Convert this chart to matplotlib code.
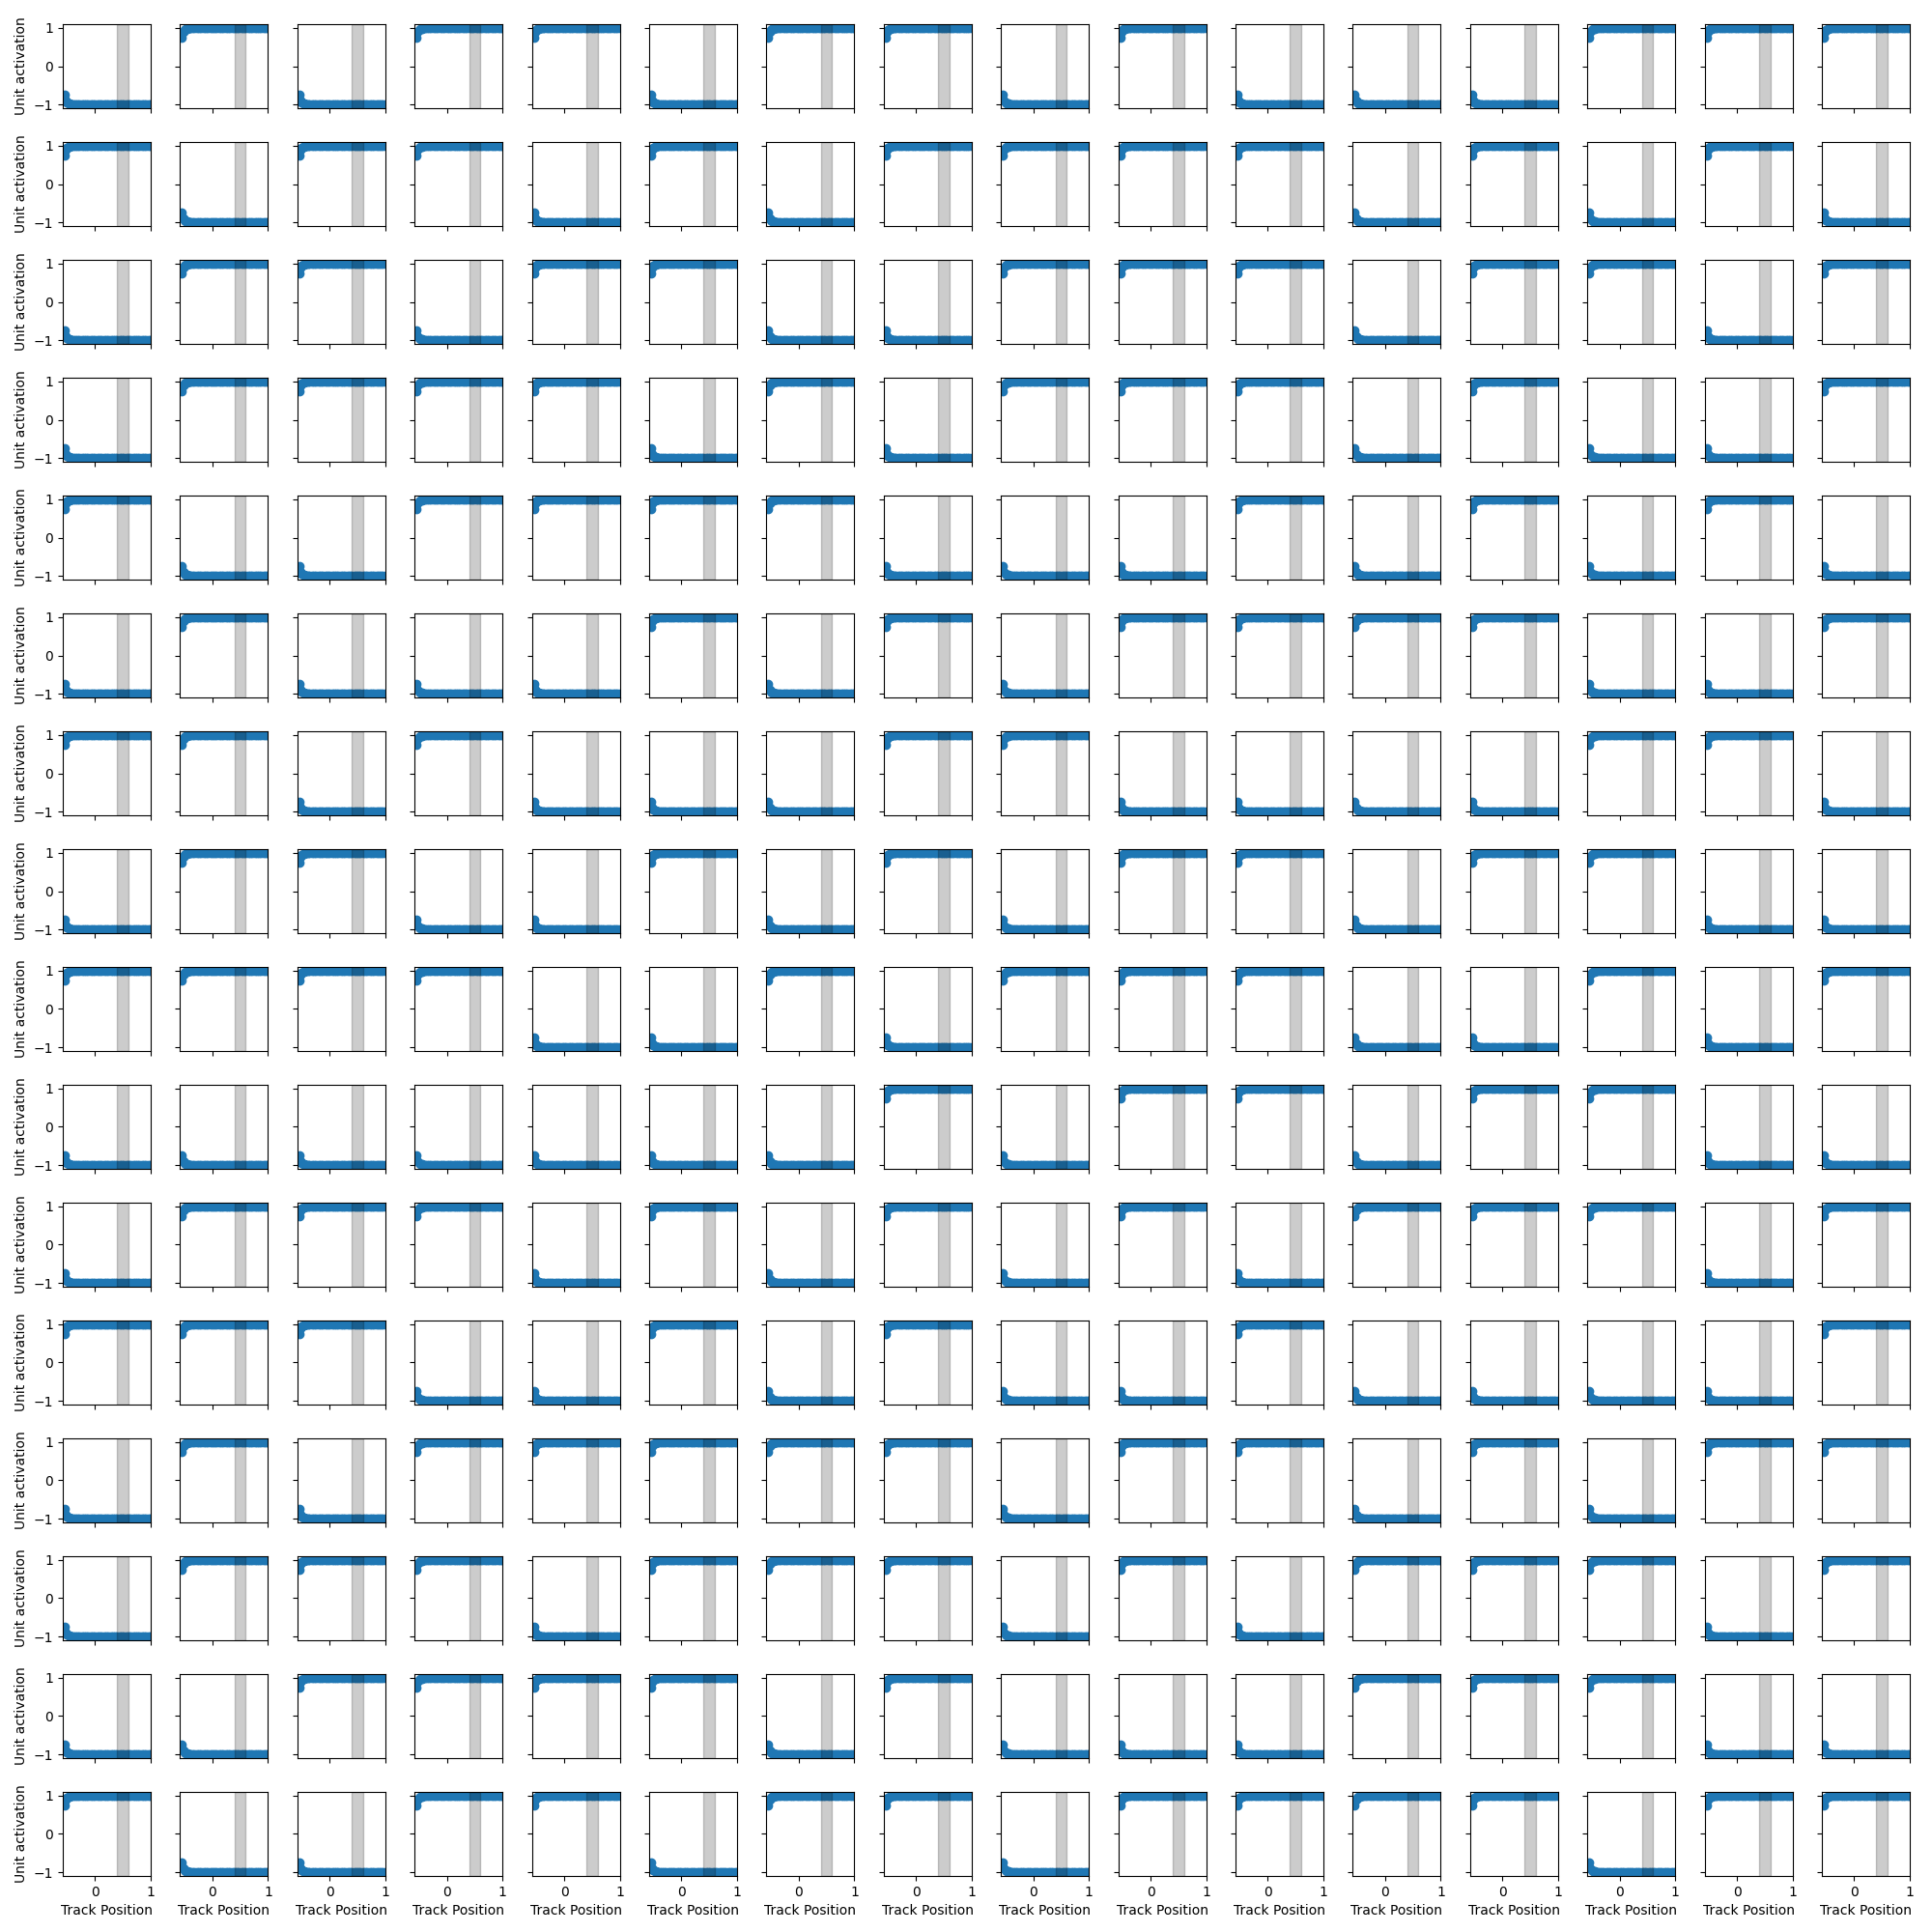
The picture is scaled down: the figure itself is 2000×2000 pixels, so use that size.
import numpy as np
import matplotlib
matplotlib.use("Agg")
import matplotlib.pyplot as plt

# Track positions sampled along the track
track_pos = [-0.545, -0.525, -0.505, -0.48, -0.45, -0.42, -0.39, -0.36, -0.32,
             -0.28, -0.24, -0.20, -0.16, -0.12, -0.08, -0.04, 0.00, 0.04, 0.08,
             0.12, 0.16, 0.20, 0.24, 0.28, 0.32, 0.36, 0.40, 0.44, 0.48,
             0.52, 0.56, 0.60, 0.64, 0.68, 0.72, 0.76, 0.80, 0.84, 0.88,
             0.92, 0.96, 1.00]
# Activation profile (magnitude), same shape for every unit
profile = [0.75, 0.90, 0.95, 0.97, 0.98, 0.99, 0.995, 1.0, 1.0,
           1.0, 1.0, 1.0, 1.0, 1.0, 1.0, 1.0, 1.0, 1.0, 1.0,
           1.0, 1.0, 1.0, 1.0, 1.0, 1.0, 1.0, 1.0, 1.0, 1.0,
           1.0, 1.0, 1.0, 1.0, 1.0, 1.0, 1.0, 1.0, 1.0, 1.0,
           1.0, 1.0, 1.0]

# Sign of each unit's saturated activation (+ / -), 16 rows x 16 columns
unit_signs = [
    "-+-++-++-+---+++",
    "+-++-+-++++-+-+-",
    "-++-++--+++-++-+",
    "-++++-+-+++-+--+",
    "+--++++---+-+-+-",
    "-+---+-+-++++--+",
    "++-+---++----++-",
    "-++--+-+-++-++--",
    "++++--+-+++--+-+",
    "-------+-++-++--",
    "-+++-+-+-+-+++-+",
    "+++--+-+--+----+",
    "-+-+++++-++-+-++",
    "-+++-+++-+-+++-+",
    "--++++-+---+++--",
    "+--++-++-++++-++",
]

# Region of interest on the track
roi = (0.4, 0.6)

n_rows = len(unit_signs)
n_cols = len(unit_signs[0])

fig, axes = plt.subplots(n_rows, n_cols, figsize=(20, 20), dpi=100,
                         sharex=True, sharey=True)
fig.subplots_adjust(left=0.0325, right=0.9885, top=0.9875, bottom=0.029,
                    wspace=0.334, hspace=0.402)

x = np.array(track_pos)
y = np.array(profile)
for i in range(n_rows):
    for j in range(n_cols):
        ax = axes[i, j]
        s = 1.0 if unit_signs[i][j] == "+" else -1.0
        ax.scatter(x, s * y, color="tab:blue")
        ax.axvspan(roi[0], roi[1], color="k", alpha=0.2)
        if j == 0:
            ax.set_ylabel("Unit activation")
        if i == n_rows - 1:
            ax.set_xlabel("Track Position")

axes[0, 0].set_xlim(-0.58, 1.0)
axes[0, 0].set_ylim(-1.1, 1.1)

fig.savefig("out.png")
